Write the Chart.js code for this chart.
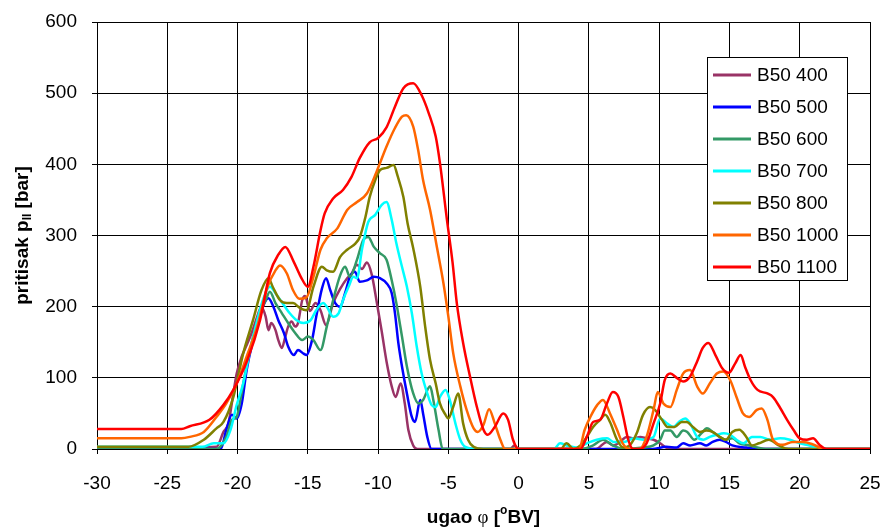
<!DOCTYPE html>
<html>
<head>
<meta charset="utf-8">
<script src="https://cdn.jsdelivr.net/npm/chart.js@4"></script>
<style>
  body { margin: 0; background: #fff; }
  #wrap { width: 885px; height: 531px; }
</style>
</head>
<body>
<div id="wrap"><canvas id="chart" width="885" height="531"></canvas></div>
<script>
// series: [angle, pressure]
const b400 = [[-30,0],[-21.5,3],[-21.0,24],[-20.65,36],[-20.3,78],[-20.06,106],[-19.7,130],[-19.35,146],[-19.0,163],[-18.6,186],[-18.3,200],[-18.0,186],[-17.8,167],[-17.6,177],[-17.3,167],[-17.1,153],[-16.85,142],[-16.6,158],[-16.4,172],[-16.15,179],[-15.9,172],[-15.7,177],[-15.4,209],[-15.2,215],[-14.85,194],[-14.45,205],[-14.1,195],[-13.7,174],[-13.2,205],[-12.7,225],[-12.2,240],[-11.9,246],[-11.5,259],[-11.15,253],[-10.8,262],[-10.45,245],[-10.1,207],[-9.74,165],[-9.4,123],[-9.03,88],[-8.75,73],[-8.4,92],[-8.1,64],[-7.85,27],[-7.5,5],[-7.2,0],[-0.6,0],[-0.3,5],[0,0],[5.5,0],[6.28,10],[6.75,5],[7.2,10],[7.7,17],[8.17,15],[8.65,17],[9.1,15],[9.6,13],[10.07,8],[10.5,2],[11,0],[25,0]];
const b500 = [[-30,0],[-21.2,0],[-20.8,27],[-20.4,48],[-20.06,43],[-19.7,64],[-19.35,111],[-19.0,144],[-18.6,172],[-18.2,200],[-17.8,212],[-17.45,200],[-17.1,181],[-16.7,163],[-16.4,144],[-16.0,132],[-15.7,139],[-15.3,134],[-15.1,132],[-14.7,153],[-14.4,186],[-14.0,225],[-13.7,240],[-13.4,223],[-13.05,205],[-12.7,200],[-12.35,219],[-12.0,242],[-11.65,249],[-11.3,235],[-10.8,237],[-10.3,242],[-9.86,240],[-9.4,233],[-9.03,219],[-8.8,191],[-8.56,149],[-8.3,116],[-7.95,78],[-7.6,45],[-7.37,38],[-7.0,69],[-6.8,50],[-6.5,17],[-6.2,0],[9.5,0],[10.5,3],[11.25,2],[11.7,8],[12.2,5],[12.9,8],[13.35,5],[13.8,10],[14.3,13],[14.75,10],[15.2,5],[16.2,2],[17,0],[25,0]];
const b600 = [[-30,0],[-21.5,0],[-20.8,17],[-20.4,41],[-20.06,45],[-19.8,69],[-19.5,102],[-19.0,149],[-18.5,186],[-18.0,209],[-17.7,221],[-17.3,205],[-16.85,191],[-16.4,177],[-15.9,163],[-15.4,153],[-15.0,158],[-14.6,153],[-14.1,139],[-13.65,172],[-13.2,209],[-12.7,244],[-12.35,256],[-12.0,242],[-11.5,266],[-11.05,294],[-10.7,298],[-10.3,284],[-9.86,275],[-9.4,266],[-9.03,237],[-8.7,205],[-8.3,158],[-7.95,116],[-7.5,78],[-7.13,64],[-6.8,69],[-6.3,88],[-6.07,69],[-5.7,27],[-5.4,0],[4.5,0],[5.3,5],[6.0,13],[6.7,5],[7.5,0],[8.85,2],[9.6,5],[10.07,13],[10.4,26],[10.8,26],[11.25,17],[11.7,26],[12.0,24],[12.5,13],[13.0,22],[13.4,29],[13.8,24],[14.3,17],[14.75,13],[15.2,15],[15.7,8],[16.4,5],[17.0,2],[17.6,0],[25,0]];
const b700 = [[-30,3],[-22.5,3],[-21.7,8],[-21,8],[-20.5,27],[-20.06,62],[-19.6,92],[-19.1,139],[-18.6,181],[-18.2,209],[-17.7,228],[-17.2,216],[-16.7,202],[-16.3,191],[-15.8,181],[-15.3,177],[-14.8,181],[-14.4,195],[-13.9,205],[-13.65,200],[-13.2,186],[-12.8,191],[-12.5,209],[-12.1,228],[-11.75,242],[-11.5,240],[-11.15,280],[-10.7,319],[-10.2,329],[-9.74,343],[-9.4,347],[-9.03,322],[-8.7,289],[-8.3,256],[-7.95,228],[-7.6,191],[-7.25,144],[-6.9,106],[-6.5,78],[-6.2,62],[-5.9,59],[-5.6,73],[-5.2,83],[-4.9,69],[-4.5,36],[-4.15,13],[-3.8,3],[-3,0],[2.5,0],[2.95,8],[3.4,5],[4.1,2],[4.85,8],[5.56,13],[6.3,15],[6.75,10],[7.5,10],[8.2,15],[8.9,13],[9.6,17],[10.07,43],[10.55,36],[11.0,31],[11.4,38],[11.85,43],[12.2,36],[12.7,17],[13.15,13],[13.6,17],[14.1,20],[14.6,22],[15.05,20],[15.5,13],[16.0,8],[16.6,17],[17.2,17],[17.9,13],[18.6,15],[19.3,13],[20.0,8],[20.7,5],[21.5,0],[25,0]];
const b800 = [[-30,3],[-23.5,3],[-22.4,13],[-21.5,29],[-21,38],[-20.3,73],[-19.6,134],[-18.9,181],[-18.3,223],[-17.8,240],[-17.5,228],[-16.97,209],[-16.5,205],[-16.05,205],[-15.55,198],[-15.1,195],[-14.6,228],[-14.0,256],[-13.65,251],[-13.2,249],[-12.7,270],[-12.2,280],[-11.6,289],[-11.3,298],[-10.9,326],[-10.6,354],[-10.2,378],[-9.86,392],[-9.4,395],[-8.9,399],[-8.6,383],[-8.2,354],[-7.9,317],[-7.5,282],[-7.0,228],[-6.65,172],[-6.3,125],[-5.9,92],[-5.6,64],[-5.2,48],[-5.0,43],[-4.66,59],[-4.3,78],[-3.95,36],[-3.6,13],[-3.2,3],[-2.5,0],[3.0,0],[3.4,8],[3.9,0],[4.4,5],[4.85,17],[5.3,31],[5.8,41],[6.16,48],[6.5,38],[7.0,13],[7.45,2],[7.9,5],[8.4,22],[8.85,48],[9.35,59],[9.7,55],[10.2,41],[10.6,31],[11.1,31],[11.6,38],[11.95,38],[12.4,31],[12.9,24],[13.35,26],[13.8,24],[14.3,17],[14.75,13],[15.2,24],[15.7,27],[16.2,17],[16.6,5],[17.1,8],[17.8,13],[18.5,5],[19.2,0],[25,0]];
const b1000 = [[-30,15],[-24,15],[-23.4,17],[-22.4,24],[-21.5,45],[-20.8,64],[-20.06,92],[-19.35,130],[-18.6,172],[-17.9,226],[-17.3,251],[-16.97,258],[-16.5,247],[-16.05,223],[-15.6,211],[-15.1,213],[-14.6,242],[-14.1,280],[-13.65,296],[-12.9,310],[-12.2,336],[-11.5,347],[-10.8,359],[-10.1,390],[-9.4,425],[-8.8,451],[-8.3,467],[-8,469],[-7.5,453],[-7.15,420],[-6.8,378],[-6.3,336],[-5.8,282],[-5.35,233],[-5,186],[-4.65,134],[-4.15,88],[-3.7,55],[-3.2,29],[-2.9,24],[-2.5,34],[-2.1,56],[-1.7,36],[-1.3,13],[-0.96,0],[4.3,0],[4.7,27],[5.1,45],[5.6,62],[6.0,69],[6.5,50],[7.0,27],[7.4,8],[7.9,0],[8.6,0],[9.1,17],[9.6,55],[9.9,80],[10.3,64],[10.8,59],[11.25,83],[11.7,106],[12.2,111],[12.7,88],[13.1,78],[13.6,92],[14.1,106],[14.55,109],[15.05,97],[15.5,73],[15.96,50],[16.4,45],[16.95,55],[17.3,57],[17.7,41],[18.1,13],[18.8,6],[19.5,10],[20.25,10],[21,6],[21.7,0],[25,0]];
const b1100 = [[-30,28],[-24,28],[-23.4,32],[-22,41],[-21,62],[-20.3,83],[-19.3,125],[-18.4,181],[-17.7,247],[-17.1,273],[-16.6,284],[-16,263],[-15.5,242],[-15,228],[-14.6,256],[-14.1,307],[-13.8,331],[-13.2,352],[-12.5,364],[-11.9,382],[-11.3,409],[-10.6,431],[-10,437],[-9.4,452],[-8.8,481],[-8.2,507],[-7.5,514],[-6.9,497],[-6.4,472],[-5.9,439],[-5.6,402],[-5.1,322],[-4.7,262],[-4.4,205],[-3.95,149],[-3.45,101],[-2.97,59],[-2.5,27],[-2.2,20],[-1.7,31],[-1.1,50],[-0.75,41],[-0.4,13],[0,0],[4.4,0],[4.85,17],[5.3,38],[5.8,41],[6.28,64],[6.7,80],[7.1,73],[7.45,45],[7.8,13],[8.15,0],[8.6,0],[9.1,8],[9.6,36],[10.07,64],[10.4,97],[10.8,106],[11.25,100],[11.7,95],[12.2,102],[12.7,123],[13.1,142],[13.5,149],[14,132],[14.5,113],[14.95,107],[15.4,120],[15.8,132],[16.1,116],[16.5,97],[17,83],[17.7,78],[18.1,73],[18.6,58],[19.1,41],[19.55,27],[20,15],[20.5,13],[20.95,15],[21.4,6],[21.9,0],[25,0]];

const seriesNames = ['B50 400', 'B50 500', 'B50 600', 'B50 700', 'B50 800', 'B50 1000', 'B50 1100'];
const seriesData = [b400, b500, b600, b700, b800, b1000, b1100];
const seriesColors = ['#993366', '#0000FF', '#339966', '#00FFFF', '#808000', '#FF6600', '#FF0000'];

const xTicks = [-30, -25, -20, -15, -10, -5, 0, 5, 10, 15, 20, 25];
const yTicks = [0, 100, 200, 300, 400, 500, 600];

const FONT = '"Liberation Sans", Arial, sans-serif';

// draws a run of text pieces with different fonts, centred on (cx, cy)
function drawRich(ctx, parts, cx, cy) {
  let total = 0;
  parts.forEach((p) => {
    ctx.font = p.font;
    p.w = ctx.measureText(p.text).width;
    total += p.w;
  });
  let x = cx - total / 2;
  ctx.textBaseline = 'middle';
  ctx.textAlign = 'left';
  parts.forEach((p) => {
    ctx.font = p.font;
    ctx.fillText(p.text, x, cy + (p.dy || 0));
    x += p.w;
  });
}

const decorPlugin = {
  id: 'decor',
  afterDraw(chart) {
    const ctx = chart.ctx;
    const area = chart.chartArea;
    ctx.save();
    ctx.fillStyle = '#000';

    // x title
    drawRich(ctx, [
      {text: 'ugao ', font: 'bold 19px ' + FONT},
      {text: 'φ', font: '19px "Liberation Serif", serif'},
      {text: ' [', font: 'bold 19px ' + FONT},
      {text: 'o', font: 'bold 12px ' + FONT, dy: -7},
      {text: 'BV]', font: 'bold 19px ' + FONT},
    ], (area.left + area.right) / 2, 518);

    // y title
    ctx.save();
    ctx.translate(23, (area.top + area.bottom) / 2);
    ctx.rotate(-Math.PI / 2);
    drawRich(ctx, [
      {text: 'pritisak p', font: 'bold 19px ' + FONT},
      {text: 'II', font: 'bold 12px ' + FONT, dy: 5},
      {text: ' [bar]', font: 'bold 19px ' + FONT},
    ], 0, 0);
    ctx.restore();

    // legend box
    const lx = 707, ly = 57, lw = 140, lh = 223;
    ctx.fillStyle = '#fff';
    ctx.fillRect(lx, ly, lw, lh);
    ctx.strokeStyle = '#000';
    ctx.lineWidth = 1;
    ctx.strokeRect(lx + 0.5, ly + 0.5, lw, lh);
    ctx.font = '19px ' + FONT;
    ctx.textBaseline = 'middle';
    ctx.textAlign = 'left';
    seriesNames.forEach((name, i) => {
      const y = ly + 18 + i * 32;
      ctx.strokeStyle = seriesColors[i];
      ctx.lineWidth = 3;
      ctx.beginPath();
      ctx.moveTo(lx + 6, y);
      ctx.lineTo(lx + 44, y);
      ctx.stroke();
      ctx.fillStyle = '#000';
      ctx.fillText(name, lx + 50, y + 1);
    });
    ctx.restore();
  }
};

new Chart(document.getElementById('chart'), {
  type: 'line',
  data: {
    datasets: seriesData.map((pts, i) => ({
      label: seriesNames[i],
      data: pts.map((p) => ({x: p[0], y: p[1]})),
      borderColor: seriesColors[i],
      backgroundColor: seriesColors[i],
      borderWidth: 2.5,
      pointRadius: 0,
      fill: false,
      cubicInterpolationMode: 'monotone',
      order: seriesData.length - i,
    }))
  },
  plugins: [decorPlugin],
  options: {
    responsive: false,
    animation: false,
    layout: {padding: {left: 0, right: 15, top: 22, bottom: 0}},
    scales: {
      x: {
        type: 'linear',
        min: -30,
        max: 25,
        afterBuildTicks: (scale) => { scale.ticks = xTicks.map((v) => ({value: v})); },
        afterFit: (scale) => {
          scale.height = 82;
          // keep the label overflow from pushing the plot edges inward
          scale.paddingLeft = 0;
          scale.paddingRight = 0;
        },
        grid: {color: '#000', lineWidth: 1, tickLength: 5},
        border: {color: '#000', width: 1},
        ticks: {color: '#000', font: {family: FONT, size: 19}, padding: 18, maxRotation: 0},
      },
      y: {
        min: 0,
        max: 600,
        afterBuildTicks: (scale) => { scale.ticks = yTicks.map((v) => ({value: v})); },
        afterFit: (scale) => {
          scale.width = 97;
          scale.paddingTop = 0;
          scale.paddingBottom = 0;
        },
        grid: {color: '#000', lineWidth: 1, tickLength: 5},
        border: {color: '#000', width: 1},
        ticks: {color: '#000', font: {family: FONT, size: 19}, padding: 15},
      },
    },
    plugins: {
      legend: {display: false},
      tooltip: {enabled: false},
    },
  },
});
</script>
</body>
</html>
